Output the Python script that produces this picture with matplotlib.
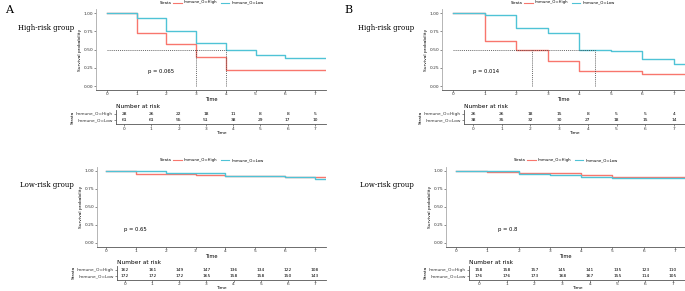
import matplotlib.pyplot as plt
import numpy as np

W, H = 685, 291

times = [0, 1, 2, 3, 4, 5, 6, 7]
labels = ["Immune_O=High", "Immune_O=Low"]
red = "#F8766D"
blue = "#4FC3D6"

# A, high-risk group
a_high_red = [1.0, 0.72, 0.58, 0.40, 0.22, 0.22, 0.22, 0.22]
a_high_blue = [1.0, 0.93, 0.76, 0.59, 0.50, 0.42, 0.39, 0.39]
a_high_risk_red = [28, 26, 22, 18, 11, 8, 8, 5]
a_high_risk_blue = [61, 61, 55, 51, 38, 29, 17, 10]
a_high_median = [3, 4]
a_high_p = "p = 0.065"

# B, high-risk group
b_high_red = [1.0, 0.62, 0.50, 0.35, 0.20, 0.20, 0.16, 0.16]
b_high_blue = [1.0, 0.98, 0.79, 0.72, 0.50, 0.48, 0.37, 0.30]
b_high_risk_red = [26, 26, 18, 15, 8, 5, 5, 4]
b_high_risk_blue = [38, 35, 32, 30, 27, 18, 15, 14]
b_high_median = [2.5, 4.5]
b_high_p = "p = 0.014"

# A, low-risk group
a_low_red = [1.0, 0.965, 0.955, 0.945, 0.935, 0.925, 0.915, 0.915]
a_low_blue = [1.0, 1.0, 0.975, 0.975, 0.935, 0.925, 0.91, 0.885]
a_low_risk_red = [162, 161, 149, 147, 136, 134, 122, 108]
a_low_risk_blue = [172, 172, 172, 165, 158, 158, 150, 143]
a_low_p = "p = 0.65"

# B, low-risk group
b_low_red = [1.0, 0.982, 0.968, 0.968, 0.94, 0.912, 0.912, 0.912]
b_low_blue = [1.0, 1.0, 0.963, 0.95, 0.92, 0.905, 0.905, 0.905]
b_low_risk_red = [158, 158, 157, 145, 141, 135, 123, 110]
b_low_risk_blue = [176, 176, 173, 168, 167, 155, 114, 105]
b_low_p = "p = 0.8"

fig = plt.figure(figsize=(W / 100, H / 100), dpi=100)
fs = 3.2


def box(x0, y0, x1, y1):
    return [x0 / W, 1 - y1 / H, (x1 - x0) / W, (y1 - y0) / H]


def style(ax):
    for s in ["top", "right"]:
        ax.spines[s].set_visible(False)
    for s in ["left", "bottom"]:
        ax.spines[s].set_color("#555555")
        ax.spines[s].set_linewidth(0.6)
    ax.tick_params(labelsize=fs, length=1.2, width=0.4, pad=0.8, colors="#333333")


def panel(surv_px, tab_px, x0px, x7px, t0px, t7px, sred, sblue, rred, rblue,
          ptxt, pxy, legxy, medians=None):
    ax = fig.add_axes(box(*surv_px))
    ppu = (x7px - x0px) / 7
    ax.set_xlim((surv_px[0] - x0px) / ppu, (surv_px[2] - x0px) / ppu)
    ax.set_ylim(-0.05, 1.05)
    xend = ax.get_xlim()[1]
    tt = times + [xend]
    ax.step(tt, sred + [sred[-1]], where="post", color=red, lw=1.0)
    ax.step(tt, sblue + [sblue[-1]], where="post", color=blue, lw=1.0)
    if medians:
        ax.plot([0, max(medians)], [0.5, 0.5], ls=(0, (1.5, 1.5)), color="#333333", lw=0.5)
        for m in medians:
            ax.plot([m, m], [0, 0.5], ls=(0, (1.5, 1.5)), color="#333333", lw=0.5)
    ax.set_xticks(times)
    ax.set_yticks([0, 0.25, 0.5, 0.75, 1.0])
    ax.set_yticklabels(["0.00", "0.25", "0.50", "0.75", "1.00"])
    ax.set_xlabel("Time", fontsize=fs + 0.5, labelpad=0.5)
    ax.set_ylabel("Survival probability", fontsize=fs, labelpad=1)
    style(ax)
    ax.spines["left"].set_color("#aaaaaa")
    ax.text(*pxy, ptxt, fontsize=fs + 0.6, transform=fig.transFigure, ha="center", va="center")
    # legend
    lx, ly = legxy
    fig.text(lx / W - 0.075, 1 - ly / H, "Strata", fontsize=fs - 0.4, va="center")
    for i, (lab, c) in enumerate(zip(labels, [red, blue])):
        x = lx / W - 0.055 + i * 0.07
        fig.add_artist(plt.Line2D([x, x + 0.012], [1 - ly / H] * 2, color=c, lw=0.8))
        fig.text(x + 0.015, 1 - ly / H, lab, fontsize=fs - 0.4, va="center")

    # risk table
    tb = fig.add_axes(box(*tab_px))
    tppu = (t7px - t0px) / 7
    tb.set_xlim((tab_px[0] - t0px) / tppu, (tab_px[2] - t0px) / tppu)
    tb.set_ylim(0.4, 2.6)
    for t, v in zip(times, rred):
        tb.text(t, 2, str(v), fontsize=fs, ha="center", va="center")
    for t, v in zip(times, rblue):
        tb.text(t, 1, str(v), fontsize=fs, ha="center", va="center")
    tb.set_xticks(times)
    tb.set_yticks([2, 1])
    tb.set_yticklabels(labels)
    for tl, c in zip(tb.get_yticklabels(), [red, blue]):
        tl.set_color(c)
    style(tb)
    tb.set_xlabel("Time", fontsize=fs, labelpad=0)
    tb.set_ylabel("Strata", fontsize=fs, labelpad=1)
    tb.set_title("Number at risk", fontsize=fs + 1, loc="left", pad=1.5)


panel((96, 9.4, 326, 89.7), (116, 110, 326, 124), 107, 315, 124, 315,
      a_high_red, a_high_blue, a_high_risk_red, a_high_risk_blue,
      a_high_p, (161 / W, 1 - 71 / H), (211, 2.5), a_high_median)
panel((442, 9.4, 685, 89.7), (464, 110, 685, 124), 453, 674, 473, 674,
      b_high_red, b_high_blue, b_high_risk_red, b_high_risk_blue,
      b_high_p, (486 / W, 1 - 71 / H), (562, 2.5), b_high_median)
panel((97, 167.4, 326, 246.6), (117, 266, 326, 279.5), 106, 315, 125, 315,
      a_low_red, a_low_blue, a_low_risk_red, a_low_risk_blue,
      a_low_p, (135 / W, 1 - 229 / H), (211, 160))
panel((446, 167.4, 685, 246.6), (469, 266, 685, 279.5), 456, 675, 479, 673,
      b_low_red, b_low_blue, b_low_risk_red, b_low_risk_blue,
      b_low_p, (508 / W, 1 - 229 / H), (565, 160))

fig.text(5 / W, 1 - 10 / H, "A", fontsize=8, family="DejaVu Serif", va="center")
fig.text(344 / W, 1 - 10 / H, "B", fontsize=8, family="DejaVu Serif", va="center")
for x, y, s in [(18, 28, "High-risk group"), (358, 28, "High-risk group"),
                (20, 185, "Low-risk group"), (360, 185, "Low-risk group")]:
    fig.text(x / W, 1 - y / H, s, fontsize=5, family="DejaVu Serif", va="center")

fig.savefig("out.png", dpi=100)
